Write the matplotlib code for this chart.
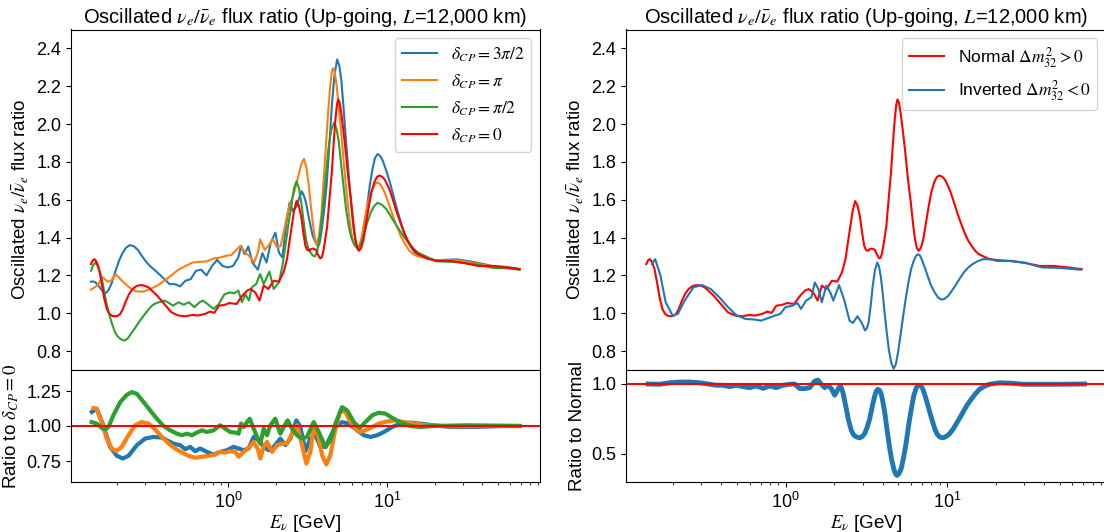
import numpy as np
import matplotlib.pyplot as plt

plt.rcParams['font.family'] = ['Liberation Sans', 'DejaVu Sans']
plt.rcParams['mathtext.fontset'] = 'stix'

# --- values (log10 of E in GeV, flux ratio) ---
logE_cp0 = [-0.864, -0.853, -0.842, -0.828, -0.813, -0.797, -0.78, -0.763, -0.747, -0.73,
            -0.713, -0.697, -0.68, -0.664, -0.647, -0.625, -0.602, -0.575, -0.547, -0.525,
            -0.502, -0.447, -0.402, -0.358, -0.313, -0.269, -0.224, -0.191, -0.147, -0.113,
            -0.087, -0.058, -0.024, 0.009, 0.053, 0.087, 0.12, 0.142, 0.171, 0.198,
            0.224, 0.253, 0.287, 0.32, 0.349, 0.371, 0.385, 0.398, 0.415, 0.431,
            0.445, 0.46, 0.475, 0.487, 0.498, 0.509, 0.52, 0.531, 0.542, 0.553,
            0.566, 0.58, 0.59, 0.598, 0.61, 0.624, 0.638, 0.653, 0.665, 0.676,
            0.685, 0.693, 0.702, 0.713, 0.727, 0.742, 0.758, 0.776, 0.79, 0.802,
            0.813, 0.824, 0.838, 0.853, 0.87, 0.887, 0.903, 0.92, 0.937, 0.953,
            0.97, 0.987, 1.003, 1.02, 1.042, 1.064, 1.087, 1.109, 1.131, 1.153,
            1.175, 1.198, 1.253, 1.309, 1.398, 1.487, 1.576, 1.664, 1.753, 1.836]
flux_cp0 = [1.26, 1.28, 1.286, 1.27, 1.233, 1.16, 1.075, 1.02, 0.996, 0.986,
            0.984, 0.986, 0.996, 1.02, 1.058, 1.1, 1.128, 1.145, 1.149, 1.145,
            1.137, 1.093, 1.049, 1.005, 0.988, 0.984, 0.991, 0.988, 0.996, 1.009,
            1.002, 1.04, 1.044, 1.054, 1.049, 1.09, 1.12, 1.128, 1.11, 1.067,
            1.146, 1.128, 1.172, 1.167, 1.216, 1.286, 1.37, 1.444, 1.54, 1.593,
            1.57, 1.514, 1.42, 1.356, 1.335, 1.33, 1.338, 1.342, 1.34, 1.335,
            1.31, 1.29, 1.295, 1.32, 1.38, 1.46, 1.6, 1.742, 1.9, 2.023,
            2.1, 2.13, 2.115, 2.058, 1.96, 1.847, 1.71, 1.584, 1.47, 1.39,
            1.345, 1.33, 1.345, 1.39, 1.48, 1.567, 1.64, 1.69, 1.72, 1.728,
            1.722, 1.707, 1.68, 1.646, 1.59, 1.53, 1.475, 1.426, 1.385, 1.356,
            1.33, 1.312, 1.29, 1.277, 1.277, 1.265, 1.25, 1.25, 1.242, 1.233]

logE_cp3half = [-0.864, -0.85, -0.836, -0.819, -0.802, -0.785, -0.769, -0.752, -0.736, -0.719,
                -0.702, -0.686, -0.669, -0.645, -0.62, -0.595, -0.569, -0.541, -0.513, -0.486,
                -0.458, -0.413, -0.369, -0.336, -0.302, -0.269, -0.236, -0.202, -0.169, -0.136,
                -0.102, -0.069, -0.036, -0.002, 0.031, 0.064, 0.082, 0.104, 0.127, 0.153,
                0.187, 0.216, 0.242, 0.269, 0.298, 0.32, 0.342, 0.364, 0.387, 0.409,
                0.431, 0.448, 0.464, 0.478, 0.491, 0.505, 0.52, 0.533, 0.547, 0.564,
                0.576, 0.587, 0.603, 0.62, 0.637, 0.653, 0.67, 0.687, 0.7, 0.713,
                0.727, 0.742, 0.76, 0.776, 0.79, 0.802, 0.82, 0.842, 0.86, 0.876,
                0.892, 0.909, 0.925, 0.942, 0.96, 0.976, 0.998, 1.02, 1.042, 1.064,
                1.087, 1.109, 1.131, 1.153, 1.175, 1.198, 1.309, 1.442, 1.553, 1.664,
                1.753, 1.836]
flux_cp3half = [1.167, 1.168, 1.163, 1.148, 1.128, 1.113, 1.107, 1.125, 1.154, 1.2,
                1.242, 1.28, 1.312, 1.345, 1.36, 1.355, 1.335, 1.3, 1.268, 1.245,
                1.225, 1.19, 1.154, 1.154, 1.142, 1.172, 1.18, 1.225, 1.23, 1.2,
                1.25, 1.282, 1.25, 1.242, 1.25, 1.295, 1.356, 1.312, 1.353, 1.268,
                1.23, 1.318, 1.268, 1.374, 1.426, 1.32, 1.295, 1.46, 1.584, 1.54,
                1.566, 1.61, 1.645, 1.62, 1.584, 1.52, 1.46, 1.41, 1.382, 1.356,
                1.37, 1.426, 1.53, 1.672, 1.88, 2.093, 2.26, 2.342, 2.31, 2.233,
                2.09, 1.918, 1.73, 1.567, 1.45, 1.382, 1.338, 1.374, 1.46, 1.567,
                1.67, 1.76, 1.82, 1.842, 1.83, 1.803, 1.75, 1.69, 1.62, 1.55,
                1.485, 1.426, 1.38, 1.347, 1.322, 1.305, 1.28, 1.285, 1.27, 1.25,
                1.245, 1.235]

logE_cppi = [-0.864, -0.824, -0.791, -0.758, -0.736, -0.709, -0.669, -0.624, -0.58, -0.536,
             -0.491, -0.447, -0.402, -0.358, -0.313, -0.269, -0.224, -0.18, -0.136, -0.091,
             -0.047, -0.013, 0.02, 0.047, 0.076, 0.109, 0.136, 0.164, 0.187, 0.202,
             0.231, 0.253, 0.282, 0.309, 0.331, 0.358, 0.372, 0.387, 0.4, 0.416,
             0.432, 0.447, 0.462, 0.478, 0.493, 0.509, 0.522, 0.536, 0.548, 0.56,
             0.572, 0.587, 0.6, 0.616, 0.63, 0.642, 0.652, 0.66, 0.67, 0.682,
             0.695, 0.709, 0.725, 0.742, 0.76, 0.776, 0.79, 0.802, 0.813, 0.824,
             0.843, 0.864, 0.886, 0.909, 0.925, 0.942, 0.965, 0.987, 1.009, 1.031,
             1.06, 1.087, 1.115, 1.142, 1.17, 1.198, 1.309, 1.442, 1.553, 1.664,
             1.753, 1.836]
flux_cppi = [1.125, 1.146, 1.19, 1.167, 1.172, 1.207, 1.172, 1.137, 1.116, 1.114,
             1.128, 1.146, 1.172, 1.2, 1.23, 1.25, 1.268, 1.272, 1.274, 1.29,
             1.295, 1.304, 1.307, 1.33, 1.356, 1.32, 1.3, 1.268, 1.32, 1.39,
             1.335, 1.356, 1.39, 1.347, 1.356, 1.46, 1.52, 1.566, 1.6, 1.637,
             1.69, 1.742, 1.79, 1.816, 1.77, 1.672, 1.56, 1.46, 1.39, 1.365,
             1.41, 1.514, 1.68, 1.882, 2.06, 2.19, 2.27, 2.295, 2.28, 2.216,
             2.11, 1.988, 1.83, 1.672, 1.53, 1.426, 1.375, 1.356, 1.348, 1.347,
             1.41, 1.514, 1.6, 1.654, 1.682, 1.693, 1.675, 1.637, 1.585, 1.532,
             1.465, 1.41, 1.365, 1.33, 1.31, 1.3, 1.28, 1.28, 1.265, 1.248,
             1.242, 1.232]

logE_cphalf = [-0.864, -0.85, -0.836, -0.822, -0.807, -0.793, -0.78, -0.763, -0.747, -0.73,
               -0.713, -0.697, -0.68, -0.665, -0.651, -0.632, -0.613, -0.59, -0.569, -0.546,
               -0.524, -0.502, -0.48, -0.458, -0.436, -0.402, -0.38, -0.347, -0.313, -0.28,
               -0.247, -0.213, -0.18, -0.158, -0.124, -0.091, -0.058, -0.024, 0.009, 0.038,
               0.064, 0.087, 0.109, 0.131, 0.149, 0.176, 0.202, 0.224, 0.26, 0.287,
               0.32, 0.342, 0.353, 0.364, 0.38, 0.398, 0.415, 0.431, 0.447, 0.464,
               0.478, 0.491, 0.505, 0.52, 0.533, 0.547, 0.558, 0.569, 0.583, 0.598,
               0.615, 0.631, 0.65, 0.669, 0.683, 0.698, 0.712, 0.727, 0.743, 0.76,
               0.776, 0.793, 0.807, 0.82, 0.837, 0.853, 0.875, 0.898, 0.92, 0.942,
               0.97, 0.998, 1.03, 1.064, 1.103, 1.142, 1.17, 1.198, 1.309, 1.442,
               1.553, 1.664, 1.753, 1.836]
flux_cphalf = [1.225, 1.255, 1.268, 1.25, 1.216, 1.17, 1.11, 1.04, 0.988, 0.94,
               0.9, 0.878, 0.865, 0.858, 0.856, 0.868, 0.891, 0.918, 0.944, 0.972,
               0.996, 1.02, 1.04, 1.052, 1.058, 1.067, 1.058, 1.04, 1.058, 1.045,
               1.058, 1.032, 1.058, 1.067, 1.045, 1.023, 1.049, 1.1, 1.11, 1.105,
               1.12, 1.058, 1.1, 1.067, 1.137, 1.154, 1.207, 1.154, 1.22, 1.128,
               1.163, 1.25, 1.31, 1.374, 1.47, 1.567, 1.66, 1.698, 1.66, 1.567,
               1.47, 1.39, 1.345, 1.32, 1.305, 1.3, 1.32, 1.356, 1.45, 1.567,
               1.72, 1.865, 1.97, 2.009, 1.975, 1.9, 1.79, 1.672, 1.55, 1.46,
               1.4, 1.365, 1.35, 1.347, 1.37, 1.41, 1.475, 1.532, 1.566, 1.584,
               1.573, 1.55, 1.505, 1.46, 1.41, 1.365, 1.34, 1.32, 1.275, 1.27,
               1.26, 1.24, 1.238, 1.23]

logE_inv = [-0.83, -0.809, -0.776, -0.744, -0.701, -0.669, -0.626, -0.572, -0.518, -0.465,
            -0.411, -0.357, -0.303, -0.249, -0.196, -0.153, -0.11, -0.067, -0.034, -0.002,
            0.041, 0.073, 0.095, 0.127, 0.159, 0.181, 0.202, 0.224, 0.252, 0.277,
            0.295, 0.331, 0.363, 0.396, 0.417, 0.445, 0.471, 0.492, 0.503, 0.514,
            0.527, 0.54, 0.554, 0.568, 0.578, 0.589, 0.6, 0.611, 0.625, 0.639,
            0.654, 0.669, 0.683, 0.697, 0.713, 0.729, 0.745, 0.761, 0.778, 0.794,
            0.807, 0.819, 0.833, 0.847, 0.863, 0.88, 0.9, 0.923, 0.945, 0.966,
            0.987, 1.009, 1.03, 1.052, 1.078, 1.105, 1.132, 1.159, 1.19, 1.224,
            1.288, 1.374, 1.482, 1.589, 1.697, 1.83]
flux_inv = [1.26, 1.286, 1.198, 1.058, 0.988, 0.996, 1.067, 1.137, 1.149, 1.128,
            1.084, 1.032, 0.988, 0.97, 0.967, 0.961, 0.974, 0.988, 0.996, 1.032,
            1.04, 1.054, 1.023, 1.067, 1.084, 1.163, 1.13, 1.058, 1.146, 1.11,
            1.067, 1.149, 1.07, 0.961, 0.949, 0.984, 0.95, 0.909, 0.92, 0.95,
            1.04, 1.146, 1.23, 1.268, 1.25, 1.198, 1.12, 1.023, 0.91, 0.812,
            0.74, 0.707, 0.73, 0.795, 0.89, 0.988, 1.08, 1.163, 1.235, 1.277,
            1.302, 1.312, 1.305, 1.277, 1.24, 1.198, 1.15, 1.111, 1.083, 1.072,
            1.077, 1.093, 1.118, 1.146, 1.182, 1.216, 1.242, 1.26, 1.275, 1.286,
            1.284, 1.277, 1.268, 1.242, 1.24, 1.23]

# ratio panel, left (ratio to delta_CP = 0)
logE_r3half = [-0.859, -0.828, -0.786, -0.744, -0.701, -0.664, -0.628, -0.575, -0.523, -0.47,
               -0.417, -0.386, -0.344, -0.302, -0.27, -0.239, -0.208, -0.176, -0.134, -0.092,
               -0.05, -0.008, 0.034, 0.066, 0.098, 0.129, 0.161, 0.192, 0.224, 0.255,
               0.287, 0.329, 0.361, 0.392, 0.43, 0.455, 0.487, 0.518, 0.55, 0.581,
               0.613, 0.644, 0.676, 0.718, 0.76, 0.813, 0.855, 0.897, 0.939, 0.981,
               1.034, 1.086, 1.149, 1.212, 1.296, 1.401, 1.507, 1.612, 1.717, 1.836]
ratio_3half = [1.1, 1.123, 1.005, 0.851, 0.787, 0.768, 0.787, 0.863, 0.91, 0.922,
               0.917, 0.898, 0.874, 0.863, 0.834, 0.851, 0.82, 0.839, 0.815, 0.796,
               0.815, 0.827, 0.851, 0.839, 0.827, 0.839, 0.922, 0.898, 0.851, 0.827,
               0.851, 0.91, 0.863, 0.91, 1.04, 0.993, 0.82, 0.91, 0.934, 0.851,
               0.851, 0.922, 0.993, 1.028, 1.017, 0.969, 0.934, 0.922, 0.934, 0.957,
               0.993, 1.017, 1.024, 1.017, 1.005, 0.993, 0.993, 0.995, 1.0, 1.0]

logE_rpi = [-0.849, -0.828, -0.797, -0.765, -0.733, -0.706, -0.67, -0.628, -0.586, -0.544,
            -0.502, -0.46, -0.417, -0.375, -0.333, -0.291, -0.249, -0.208, -0.165, -0.123,
            -0.081, -0.05, -0.018, 0.013, 0.045, 0.066, 0.098, 0.129, 0.161, 0.186,
            0.203, 0.224, 0.245, 0.277, 0.308, 0.339, 0.371, 0.403, 0.434, 0.466,
            0.493, 0.518, 0.543, 0.571, 0.592, 0.619, 0.644, 0.676, 0.708, 0.739,
            0.771, 0.802, 0.834, 0.865, 0.907, 0.949, 1.002, 1.055, 1.107, 1.17,
            1.254, 1.401, 1.612, 1.836]
ratio_pi = [1.128, 1.123, 1.028, 0.91, 0.839, 0.82, 0.851, 0.934, 1.005, 1.028,
            1.017, 0.976, 0.922, 0.874, 0.839, 0.81, 0.787, 0.773, 0.78, 0.787,
            0.796, 0.815, 0.81, 0.82, 0.815, 0.78, 0.815, 0.844, 0.886, 0.839,
            0.768, 0.851, 0.886, 0.815, 0.863, 0.874, 0.874, 0.945, 1.005, 0.863,
            0.732, 0.815, 1.017, 0.91, 0.791, 0.725, 0.791, 0.981, 1.111, 1.099,
            1.028, 0.981, 0.957, 0.969, 0.993, 1.017, 1.033, 1.04, 1.028, 1.017,
            1.005, 0.998, 1.0, 1.0]

logE_rhalf = [-0.859, -0.828, -0.796, -0.775, -0.754, -0.723, -0.68, -0.638, -0.607, -0.575,
              -0.533, -0.491, -0.449, -0.407, -0.365, -0.323, -0.291, -0.26, -0.228, -0.197,
              -0.165, -0.134, -0.092, -0.05, -0.018, 0.013, 0.045, 0.066, 0.081, 0.098,
              0.119, 0.136, 0.157, 0.182, 0.203, 0.224, 0.245, 0.266, 0.297, 0.329,
              0.35, 0.375, 0.403, 0.434, 0.466, 0.497, 0.539, 0.571, 0.613, 0.644,
              0.676, 0.718, 0.75, 0.792, 0.83, 0.865, 0.907, 0.949, 0.991, 1.044,
              1.086, 1.149, 1.212, 1.296, 1.507, 1.836]
ratio_half = [1.028, 1.017, 0.986, 0.976, 0.993, 1.076, 1.171, 1.223, 1.242, 1.23,
              1.171, 1.111, 1.052, 1.0, 0.969, 0.945, 0.934, 0.945, 0.934, 0.953,
              0.969, 0.957, 0.969, 1.005, 0.981, 0.957, 0.953, 0.945, 1.017, 0.993,
              1.028, 1.052, 0.993, 0.922, 0.874, 0.981, 0.934, 1.005, 1.052, 0.945,
              0.993, 1.04, 0.981, 0.934, 0.91, 0.922, 1.028, 0.957, 0.85, 0.898,
              1.017, 1.135, 1.111, 1.028, 0.986, 1.028, 1.076, 1.095, 1.088, 1.052,
              1.024, 1.0, 0.993, 1.0, 1.005, 1.0]

# ratio panel, right (inverted / normal)
logE_rinv = [-0.853, -0.781, -0.719, -0.657, -0.595, -0.533, -0.471, -0.43, -0.388, -0.347,
             -0.306, -0.264, -0.223, -0.182, -0.14, -0.099, -0.058, -0.017, 0.025, 0.056,
             0.087, 0.118, 0.149, 0.18, 0.2, 0.221, 0.242, 0.262, 0.283, 0.304,
             0.324, 0.339, 0.355, 0.376, 0.39, 0.407, 0.422, 0.438, 0.459, 0.475,
             0.49, 0.505, 0.521, 0.537, 0.552, 0.562, 0.572, 0.582, 0.593, 0.603,
             0.614, 0.63, 0.645, 0.657, 0.669, 0.68, 0.69, 0.703, 0.717, 0.732,
             0.748, 0.763, 0.779, 0.795, 0.81, 0.82, 0.831, 0.841, 0.851, 0.866,
             0.882, 0.903, 0.924, 0.94, 0.955, 0.967, 0.979, 0.998, 1.017, 1.038,
             1.058, 1.078, 1.099, 1.125, 1.151, 1.176, 1.202, 1.233, 1.264, 1.326,
             1.409, 1.471, 1.574, 1.678, 1.853]
ratio_inv = [1.0, 0.998, 1.009, 1.014, 1.014, 1.009, 0.998, 0.991, 0.991, 0.981,
             0.991, 0.981, 0.974, 0.986, 0.969, 0.986, 0.974, 0.991, 0.998, 1.0,
             0.967, 0.967, 0.974, 1.021, 1.028, 0.998, 0.974, 0.991, 0.967, 0.92,
             0.962, 0.991, 0.94, 0.822, 0.74, 0.669, 0.635, 0.622, 0.615, 0.625,
             0.646, 0.69, 0.751, 0.84, 0.915, 0.95, 0.962, 0.955, 0.927, 0.87,
             0.798, 0.66, 0.54, 0.46, 0.399, 0.36, 0.347, 0.36, 0.399, 0.48,
             0.587, 0.71, 0.822, 0.92, 0.974, 0.99, 0.991, 0.983, 0.962, 0.91,
             0.845, 0.76, 0.681, 0.64, 0.622, 0.616, 0.617, 0.627, 0.646, 0.678,
             0.716, 0.755, 0.798, 0.85, 0.892, 0.93, 0.962, 0.985, 0.998, 1.009,
             1.005, 0.998, 0.998, 0.998, 1.0]

title = r'Oscillated $\nu_e/\bar{\nu}_e$ flux ratio (Up-going, $L$=12,000 km)'
ylab_top = r'Oscillated $\nu_e/\bar{\nu}_e$ flux ratio'


def E(logs):
    return 10 ** np.asarray(logs)


W, H = 1104, 532
fig = plt.figure(figsize=(W / 100, H / 100), dpi=100)

top_b, top_h = 1 - 370 / H, (370 - 29.5) / H
bot_b, bot_h = 1 - 482 / H, (482 - 370) / H
lx, lw_ = 71 / W, 469 / W
rx, rw = 626 / W, 480 / W

axL = fig.add_axes([lx, top_b, lw_, top_h])
axLr = fig.add_axes([lx, bot_b, lw_, bot_h], sharex=axL)
axR = fig.add_axes([rx, top_b, rw, top_h])
axRr = fig.add_axes([rx, bot_b, rw, bot_h], sharex=axR)

# --- left: delta_CP comparison ---
axL.plot(E(logE_cp3half), flux_cp3half, color='C0', lw=1.5, label=r'$\delta_{CP}=3\pi/2$')
axL.plot(E(logE_cppi), flux_cppi, color='C1', lw=1.5, label=r'$\delta_{CP}=\pi$')
axL.plot(E(logE_cphalf), flux_cphalf, color='C2', lw=1.5, label=r'$\delta_{CP}=\pi/2$')
axL.plot(E(logE_cp0), flux_cp0, color='red', lw=1.5, label=r'$\delta_{CP}=0$')
axL.legend(loc='upper right', fontsize=12.5)

axLr.plot(E(logE_r3half), ratio_3half, color='C0', lw=3)
axLr.plot(E(logE_rpi), ratio_pi, color='C1', lw=3)
axLr.plot(E(logE_rhalf), ratio_half, color='C2', lw=3)
axLr.axhline(1.0, color='red', lw=1.5)
axLr.set_ylim(0.6, 1.4)
axLr.set_yticks([0.75, 1.0, 1.25])
axLr.set_ylabel(r'Ratio to $\delta_{CP}=0$', fontsize=13.5)

# --- right: mass ordering ---
axR.plot(E(logE_cp0), flux_cp0, color='red', lw=1.5, label=r'Normal $\Delta m^2_{32}>0$')
axR.plot(E(logE_inv), flux_inv, color='C0', lw=1.5, label=r'Inverted $\Delta m^2_{32}<0$')
axR.legend(loc='upper right', fontsize=12.5)

axRr.plot(E(logE_rinv), ratio_inv, color='C0', lw=3.5)
axRr.axhline(1.0, color='red', lw=1.5)
axRr.set_ylim(0.3, 1.1)
axRr.set_yticks([0.5, 1.0])
axRr.set_ylabel('Ratio to Normal', fontsize=13.5)

for ax in (axL, axR):
    ax.set_xscale('log')
    ax.set_ylim(0.7, 2.5)
    ax.set_yticks(np.arange(0.8, 2.41, 0.2))
    ax.set_ylabel(ylab_top, fontsize=13.5)
    ax.set_title(title, fontsize=14.5, pad=5)
    ax.tick_params(axis='x', which='both', bottom=False, labelbottom=False)

axL.set_xlim(10 ** -0.99, 10 ** 1.965)
axR.set_xlim(10 ** -0.99, 10 ** 1.986)

for ax in (axLr, axRr):
    ax.set_xlabel(r'$E_\nu$ [GeV]', fontsize=13.5, labelpad=1)

for ax in (axL, axLr, axR, axRr):
    ax.tick_params(labelsize=13)

fig.savefig('out.png', dpi=100)
